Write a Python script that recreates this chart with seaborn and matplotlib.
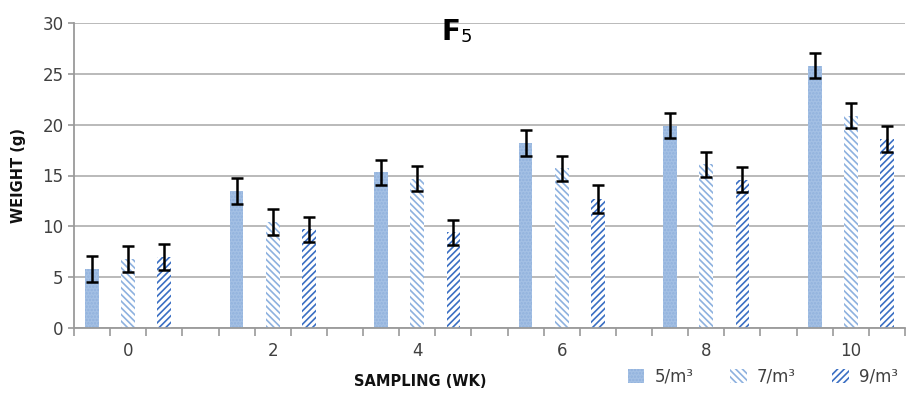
import numpy as np
import pandas as pd
import matplotlib
matplotlib.use('Agg')
import matplotlib.pyplot as plt
import seaborn as sns
from matplotlib.patches import Patch

# weeks sampled and stocking densities
weeks = ['0', '2', '4', '6', '8', '10']
densities = ['5/m³', '7/m³', '9/m³']

# mean weight (g) per week for each density
w_5 = [5.8, 13.5, 15.3, 18.2, 19.9, 25.8]
w_7 = [6.8, 10.4, 14.7, 15.7, 16.1, 20.9]
w_9 = [7.0, 9.7, 9.4, 12.7, 14.6, 18.6]

# error (+/-) per bar
err_5 = [1.3, 1.3, 1.25, 1.3, 1.25, 1.25]
err_7 = [1.3, 1.3, 1.25, 1.25, 1.25, 1.25]
err_9 = [1.3, 1.25, 1.25, 1.35, 1.25, 1.3]

# Excel-style layout: 3 bars per week then an empty slot
n_slots = len(weeks) * 4 - 1
rows = []
for i, wk in enumerate(weeks):
    for j, (vals, errs) in enumerate([(w_5, err_5), (w_7, err_7), (w_9, err_9)]):
        rows.append({'slot': i * 4 + j, 'density': densities[j],
                     'weight': vals[i], 'err': errs[i]})
df = pd.DataFrame(rows)

sns.set_style('white')
plt.rcParams['font.family'] = ['DejaVu Sans']
plt.rcParams['hatch.linewidth'] = 1.2

fig = plt.figure(figsize=(9.13, 3.97), dpi=100)
ax = fig.add_axes([74 / 913, 1 - 328 / 397, (905 - 74) / 913, (328 - 23) / 397])

face = {'5/m³': '#a4c0e4', '7/m³': 'white', '9/m³': 'white'}
hatch_col = {'5/m³': '#90b1dd', '7/m³': '#8db1df', '9/m³': '#3a6fc3'}
hatches = {'5/m³': '.....', '7/m³': '\\\\\\\\\\', '9/m³': '/////'}

sns.barplot(data=df, x='slot', y='weight', hue='density', order=list(range(n_slots)),
            hue_order=densities, dodge=False, width=0.38, errorbar=None,
            legend=False, ax=ax, native_scale=False)

for cont, d in zip(ax.containers, densities):
    for bar in cont:
        bar.set_facecolor(face[d])
        bar.set_edgecolor(hatch_col[d])
        bar.set_linewidth(0)
        bar.set_hatch(hatches[d])

ax.errorbar(df['slot'], df['weight'], yerr=df['err'], fmt='none',
            ecolor='black', elinewidth=1.8, capsize=4.5, capthick=1.8, zorder=5)

ax.set_ylim(0, 30)
ax.set_xlim(-0.5, n_slots - 0.5)
ax.set_yticks(np.arange(0, 31, 5))
ax.yaxis.grid(True, color='#b4b4b4', linewidth=1.3)
ax.set_axisbelow(True)

# tick marks at slot borders, labels under the middle bar of each week
ax.set_xticks(np.arange(-0.5, n_slots, 1.0))
ax.set_xticklabels([])
ax.set_xticks([i * 4 + 1 for i in range(len(weeks))], minor=True)
ax.set_xticklabels(weeks, minor=True)
ax.tick_params(axis='x', which='major', direction='out', length=6, width=1.2, color='#9a9a9a', bottom=True)
ax.tick_params(axis='x', which='minor', length=0, pad=10, labelsize=12, labelcolor='#404040')
ax.tick_params(axis='y', direction='out', length=4, width=1.2, color='#9a9a9a', left=True,
               labelsize=12, labelcolor='#404040')

sns.despine(ax=ax, top=True, right=True)
for side in ['left', 'bottom']:
    ax.spines[side].set_color('#9a9a9a')
    ax.spines[side].set_linewidth(1.3)

ax.set_xlabel('')
ax.set_ylabel('WEIGHT (g)', fontsize=10.5, fontweight='bold', color='#111111', labelpad=12)
fig.text(420 / 913, 1 - 381 / 397, 'SAMPLING (WK)', fontsize=10.5, fontweight='bold',
         color='#111111', ha='center', va='center')

fig.text(441 / 913, 1 - 32 / 397, 'F', fontsize=20, fontweight='bold', color='black',
         ha='left', va='center')
fig.text(461 / 913, 1 - 37 / 397, '5', fontsize=13, color='black', ha='left', va='center')

handles = [Patch(facecolor=face[d], edgecolor=hatch_col[d], linewidth=0, hatch=hatches[d], label=d)
           for d in densities]
fig.legend(handles=handles, loc='lower right', bbox_to_anchor=(1.0, -0.01), ncol=3, frameon=False,
           fontsize=12, labelcolor='#404040', handlelength=1.0, handleheight=0.9,
           columnspacing=2.2, handletextpad=0.6)

fig.savefig('out.png', dpi=100)
